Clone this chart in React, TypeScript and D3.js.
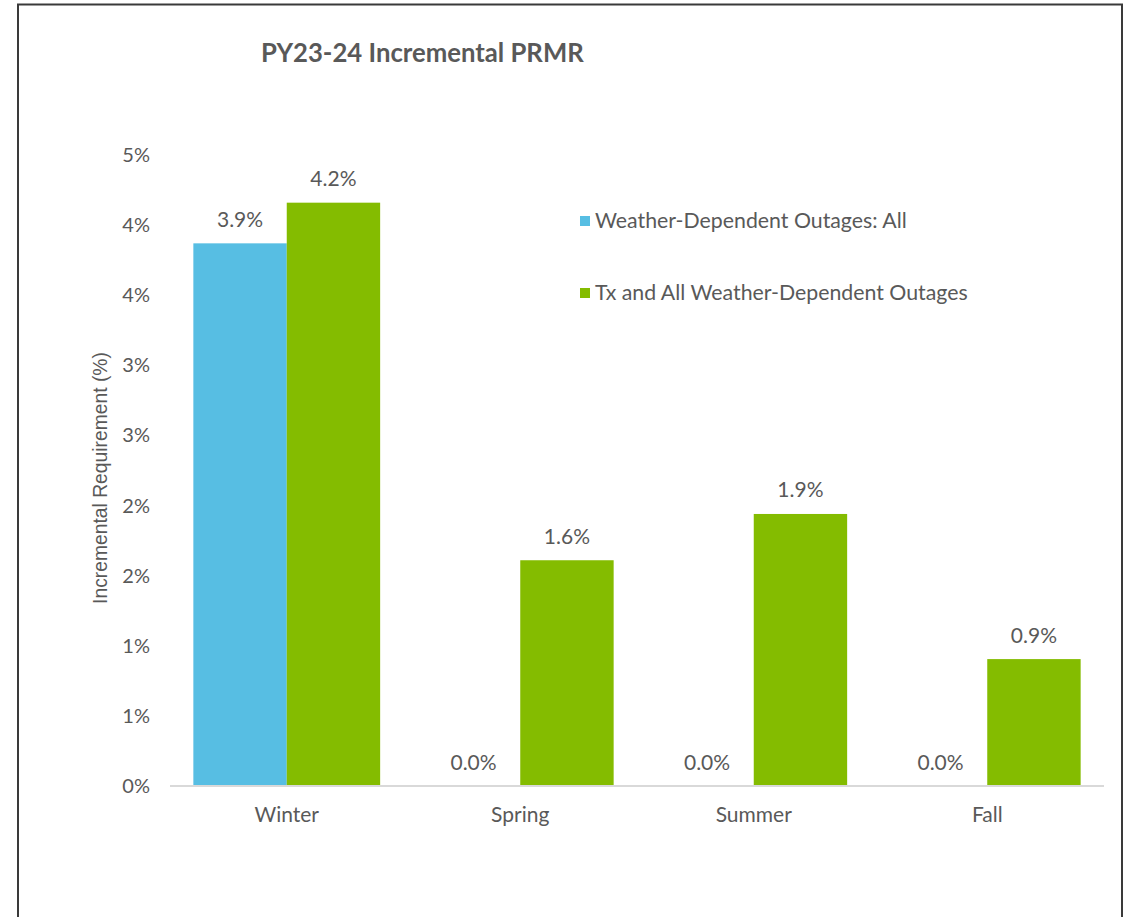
import React from "react";
import * as d3 from "d3";

const categories = ["Winter", "Spring", "Summer", "Fall"];
const seriesNames = ["Weather-Dependent Outages: All", "Tx and All Weather-Dependent Outages"];
const weatherAll = [3.87, 0.0, 0.0, 0.0];
const txAndWeather = [4.16, 1.61, 1.94, 0.905];
const yTickValues = [0, 0.5, 1, 1.5, 2, 2.5, 3, 3.5, 4, 4.5];
const yTickLabels = ["0%", "1%", "1%", "2%", "2%", "3%", "3%", "4%", "4%", "5%"];
const colors = ["#57BEE3", "#84BC00"];

const W = 1129;
const H = 917;
const FONT = "Lato, 'Open Sans', sans-serif";
const TEXT = "#595959";

export default function App() {
  const x0 = d3.scaleBand<string>().domain(categories).range([170, 1104]).paddingInner(0.2).paddingOuter(0.1);
  const x1 = d3.scaleBand<number>().domain([0, 1]).range([0, x0.bandwidth()]);
  const y = d3.scaleLinear().domain([0, 4.5]).range([786, 155]);
  const series = [weatherAll, txAndWeather];

  return (
    <svg width={W} height={H} style={{ position: "absolute", left: 0, top: 0 }}>
      <rect x={0} y={0} width={W} height={H} fill="#fff" />
      <path d="M18,930 L18,4.5 L1122,4.5 L1122,930" fill="none" stroke="#3a3a3a" strokeWidth={2} />
      <text x={261} y={62} fontFamily={FONT} fontWeight={700} fontSize={25.7} fill={TEXT}>
        PY23-24 Incremental PRMR
      </text>
      {yTickValues.map((v, i) => (
        <text key={i} x={150} y={y(v)} dy="0.35em" textAnchor="end" fontFamily={FONT} fontSize={20} fill={TEXT}>
          {yTickLabels[i]}
        </text>
      ))}
      <text
        transform={`translate(107,478) rotate(-90)`}
        textAnchor="middle"
        fontFamily="'Liberation Sans', Arial, sans-serif"
        fontSize={19.3}
        fill={TEXT}
      >
        Incremental Requirement (%)
      </text>
      {categories.map((c, ci) =>
        series.map((s, si) => {
          const bx = (x0(c) as number) + (x1(si) as number);
          const bw = x1.bandwidth();
          const v = s[ci];
          return (
            <g key={`${ci}-${si}`}>
              {v > 0 && <rect x={bx} y={y(v)} width={bw} height={y(0) - y(v)} fill={colors[si]} />}
              <text
                x={bx + bw / 2}
                y={y(v) - 16.5}
                textAnchor="middle"
                fontFamily={FONT}
                fontSize={21}
                fill={TEXT}
              >
                {d3.format(".1f")(v) + "%"}
              </text>
            </g>
          );
        })
      )}
      <line x1={170} x2={1104} y1={786} y2={786} stroke="#d9d9d9" strokeWidth={2} />
      {categories.map((c) => (
        <text
          key={c}
          x={(x0(c) as number) + x0.bandwidth() / 2}
          y={822}
          textAnchor="middle"
          fontFamily={FONT}
          fontSize={21}
          fill={TEXT}
        >
          {c}
        </text>
      ))}
      {seriesNames.map((n, i) => (
        <g key={n} transform={`translate(580,${221 + i * 72})`}>
          <rect x={0} y={-5} width={10} height={10} fill={colors[i]} />
          <text x={15} y={0} dy="0.35em" fontFamily={FONT} fontSize={21.3} fill={TEXT}>
            {n}
          </text>
        </g>
      ))}
    </svg>
  );
}
